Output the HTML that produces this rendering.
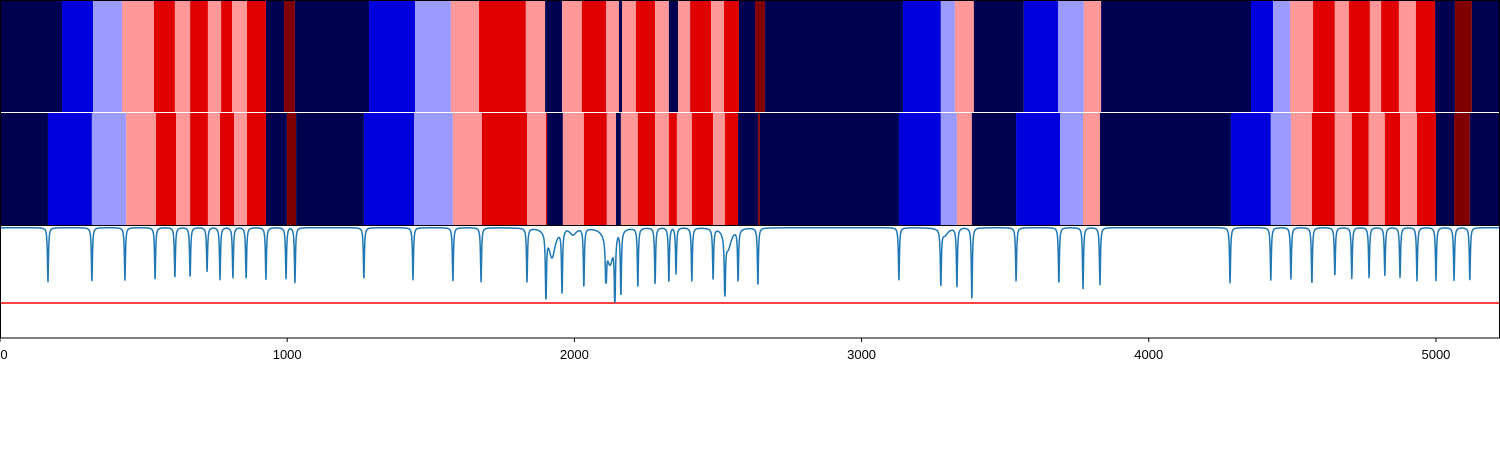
<!DOCTYPE html>
<html><head><meta charset="utf-8"><style>
html,body{margin:0;padding:0;background:#fff;width:1500px;height:450px;overflow:hidden}
svg{display:block}
text{font-family:"Liberation Sans",sans-serif;font-size:13px;fill:#000}
</style></head><body>
<svg id="chart" width="1500" height="450" viewBox="0 0 1500 450"></svg>
<script>
const xMax = 5223;
const palette = ["#000050","#0000dc","#9a9aff","#ff9999","#e00000","#800000"];
const topStarts = [0,216,324,425,536,609,662,724,770,808,860,926,989,1027,1285,1445,1570,1668,1831,1898,1957,2026,2110,2155,2166,2214,2281,2329,2361,2403,2476,2521,2573,2629,2664,3144,3276,3325,3391,3565,3684,3774,3834,4356,4433,4492,4572,4648,4697,4770,4809,4871,4930,4997,5066,5125];
const topLevels = [0,1,2,3,4,3,4,3,4,3,4,0,5,0,1,2,3,4,3,0,3,4,3,0,3,4,3,0,3,4,3,4,0,5,0,1,2,3,0,1,2,3,0,1,2,3,4,3,4,3,4,3,4,0,5,0];
const botStarts = [0,167,320,439,543,613,662,724,766,815,860,926,999,1031,1267,1442,1577,1678,1835,1901,1905,1960,2033,2113,2145,2162,2221,2281,2329,2357,2409,2483,2524,2570,2639,2646,3130,3276,3332,3384,3538,3691,3771,3830,4286,4425,4495,4568,4648,4707,4766,4822,4875,4934,5000,5063,5118];
const botLevels = [0,1,2,3,4,3,4,3,4,3,4,0,5,0,1,2,3,4,3,4,0,3,4,3,0,3,4,3,4,3,4,3,4,0,5,0,1,2,3,0,1,2,3,0,1,2,3,4,3,4,3,4,3,4,0,5,0];
const dipCenters = [167,320,435,540,609,662,721,766,811,857,926,996,1027,1267,1438,1577,1675,1835,1901,1957,2033,2110,2141,2162,2221,2281,2329,2354,2409,2483,2524,2570,2639,3130,3276,3332,3384,3538,3687,3771,3830,4283,4425,4495,4568,4648,4707,4767,4822,4875,4934,5000,5063,5118];
const dipMins = [.5,.5,.51,.52,.536,.536,.59,.52,.527,.52,.52,.527,.49,.52,.52,.5,.5,.5,.35,.40,.455,.49,.32,.39,.455,.48,.49,.57,.5,.527,.375,.51,.47,.51,.47,.455,.34,.5,.48,.44,.47,.49,.51,.52,.48,.55,.527,.536,.55,.536,.51,.51,.51,.51];
const broadCenters = [1922,1995,2124,2535,3290];
const broadMins = [.72,.92,.66,.8,.92];
const baseline = 0.985;
const threshold = 0.3125;
const xTicks = [0,1000,2000,3000,4000,5000];

const svg = document.getElementById('chart');
const NS = "http://www.w3.org/2000/svg";
const W = 1500;
const xs = v => v / xMax * W;
const yLine = v => 338 - v * 112;
function mk(tag, attrs){const e=document.createElementNS(NS,tag);for(const k in attrs)e.setAttribute(k,attrs[k]);svg.appendChild(e);return e;}

function drawRow(starts, levels, y0, h, nm){
  for(let i=0;i<starts.length;i++){
    const x0 = xs(starts[i]);
    const x1 = i+1<starts.length ? xs(starts[i+1]) : W;
    const r = mk('rect',{x:x0,y:y0,width:Math.max(x1-x0,0.5),height:h,fill:palette[levels[i]]});
    
    
  }
}
drawRow(topStarts, topLevels, 0, 112, 'top-row');
drawRow(botStarts, botLevels, 113, 113, 'bottom-row');

const sep = mk('rect',{x:0,y:112,width:W,height:1,fill:'#fff'});



let d = '';
const wN = 0.6 / W * xMax, wB = 4 / W * xMax;
for(let px=0; px<=W; px+=0.25){
  const xv = px / W * xMax;
  let bdrop = 0;
  for(let i=0;i<broadCenters.length;i++){const t=(xv-broadCenters[i])/wB; bdrop = Math.max(bdrop,(baseline-broadMins[i])/(1+t*t));}
  let ndrop = 0, lim = 0.3;
  for(let i=0;i<dipCenters.length;i++){const t=(xv-dipCenters[i])/wN; const f=1/(1+t*t); const dd=(baseline-dipMins[i])*f; if(dd>ndrop){ndrop=dd;} if(f>0.02) lim=Math.max(lim,dipMins[i]);}
  let v = baseline - bdrop - ndrop;
  if(v<lim) v=lim;
  d += (px===0?'M':'L') + px.toFixed(2) + ',' + yLine(v).toFixed(2);
}
const th = mk('line',{x1:0,x2:W,y1:yLine(threshold),y2:yLine(threshold),stroke:'#ff0000','stroke-width':1.5});


const ln = mk('path',{d:d,fill:'none',stroke:'#1f77b4','stroke-width':1.5,'stroke-linejoin':'round'});



const frame = mk('rect',{x:0.5,y:0.5,width:W-1,height:337.5,fill:'none',stroke:'#000','stroke-width':1});


const sp = mk('line',{x1:0,x2:W,y1:225.5,y2:225.5,stroke:'#000','stroke-width':1});



for(const t of xTicks){
  const x = xs(t);
  const tk = mk('line',{x1:x,x2:x,y1:338,y2:342,stroke:'#000','stroke-width':1});
  
  
  const lb = mk('text',{x:Math.max(x,4),y:359,'text-anchor':'middle'});
  lb.textContent = t;
  
  
}
</script>
</body></html>
